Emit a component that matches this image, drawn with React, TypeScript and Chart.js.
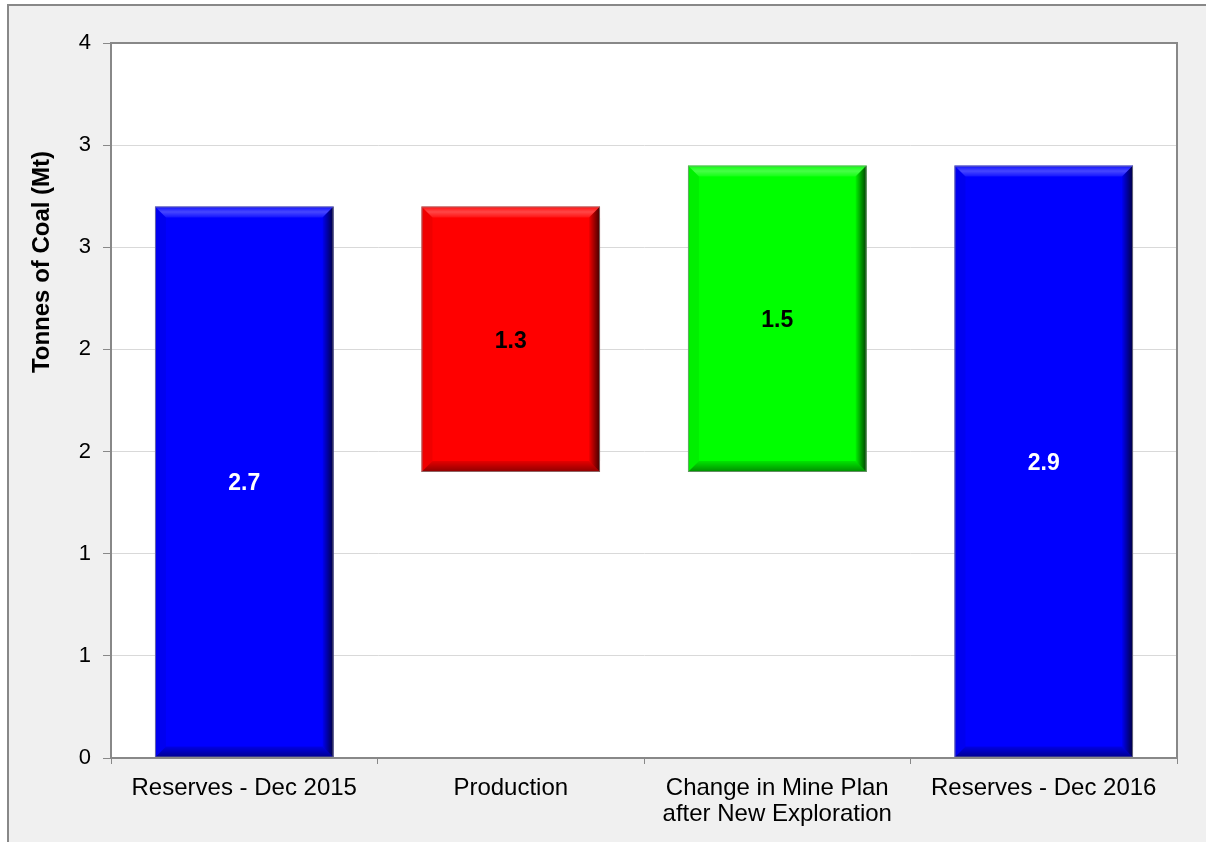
import React, { useEffect, useRef } from "react";
import { Chart, registerables } from "chart.js";

Chart.register(...registerables);

const categories: (string | string[])[] = [
  "Reserves - Dec 2015",
  "Production",
  ["Change in Mine Plan", "after New Exploration"],
  "Reserves - Dec 2016",
];
const barStarts = [0, 1.4, 1.4, 0];
const barEnds = [2.7, 2.7, 2.9, 2.9];
const labelValues = ["2.7", "1.3", "1.5", "2.9"];
const barColors = ["#0000ff", "#ff0000", "#00ff00", "#0000ff"];
const labelColors = ["#ffffff", "#000000", "#000000", "#ffffff"];
const yMin = 0;
const yMax = 3.5;
const yStep = 0.5;
const yTitle = "Tonnes of Coal (Mt)";

const FONT = "'Liberation Sans', Arial, sans-serif";

const plotAreaPlugin = {
  id: "plotArea",
  beforeDraw(chart: any) {
    const { ctx, chartArea: a } = chart;
    ctx.save();
    ctx.fillStyle = "#ffffff";
    ctx.fillRect(a.left, a.top, a.right - a.left, a.bottom - a.top);
    ctx.restore();
  },
  afterDraw(chart: any) {
    const { ctx, chartArea: a } = chart;
    ctx.save();
    ctx.strokeStyle = "#888888";
    ctx.lineWidth = 2;
    ctx.strokeRect(a.left, a.top, a.right - a.left, a.bottom - a.top);
    // y axis title (placed toward the upper part, as in the original)
    ctx.translate(33, 256);
    ctx.rotate(-Math.PI / 2);
    ctx.fillStyle = "#000000";
    ctx.font = `bold 24px ${FONT}`;
    ctx.textAlign = "center";
    ctx.textBaseline = "middle";
    ctx.fillText(yTitle, 0, 0);
    ctx.restore();
  },
};

const bevelPlugin = {
  id: "bevel",
  afterDatasetsDraw(chart: any) {
    const { ctx } = chart;
    const meta = chart.getDatasetMeta(0);
    meta.data.forEach((bar: any, i: number) => {
      const p = bar.getProps(["x", "y", "base", "width"], true);
      const l = p.x - p.width / 2;
      const r = p.x + p.width / 2;
      const t = Math.min(p.y, p.base);
      const b = Math.max(p.y, p.base);
      const s = 11;
      ctx.save();
      let g = ctx.createLinearGradient(0, t, 0, t + s);
      g.addColorStop(0, "rgba(255,255,255,0.05)");
      g.addColorStop(0.5, "rgba(255,255,255,0.28)");
      g.addColorStop(1, "rgba(255,255,255,0.08)");
      ctx.fillStyle = g;
      ctx.beginPath();
      ctx.moveTo(l, t);
      ctx.lineTo(r, t);
      ctx.lineTo(r - s, t + s);
      ctx.lineTo(l + s, t + s);
      ctx.closePath();
      ctx.fill();
      g = ctx.createLinearGradient(0, b - s, 0, b);
      g.addColorStop(0, "rgba(0,0,0,0.1)");
      g.addColorStop(1, "rgba(0,0,0,0.45)");
      ctx.fillStyle = g;
      ctx.beginPath();
      ctx.moveTo(l, b);
      ctx.lineTo(r, b);
      ctx.lineTo(r - s, b - s);
      ctx.lineTo(l + s, b - s);
      ctx.closePath();
      ctx.fill();
      g = ctx.createLinearGradient(r - s, 0, r, 0);
      g.addColorStop(0, "rgba(0,0,0,0.05)");
      g.addColorStop(1, "rgba(0,0,0,0.75)");
      ctx.fillStyle = g;
      ctx.beginPath();
      ctx.moveTo(r, t);
      ctx.lineTo(r, b);
      ctx.lineTo(r - s, b - s);
      ctx.lineTo(r - s, t + s);
      ctx.closePath();
      ctx.fill();
      ctx.fillStyle = "rgba(0,0,0,0.06)";
      ctx.beginPath();
      ctx.moveTo(l, t);
      ctx.lineTo(l, b);
      ctx.lineTo(l + s, b - s);
      ctx.lineTo(l + s, t + s);
      ctx.closePath();
      ctx.fill();
      ctx.strokeStyle = "rgba(140,140,140,0.7)";
      ctx.lineWidth = 1;
      ctx.strokeRect(l + 0.5, t + 0.5, r - l - 1, b - t - 1);
      ctx.fillStyle = labelColors[i];
      ctx.font = `bold 23px ${FONT}`;
      ctx.textAlign = "center";
      ctx.textBaseline = "middle";
      ctx.fillText(labelValues[i], p.x, (t + b) / 2 + 2);
      ctx.restore();
    });
  },
};

export default function App() {
  const ref = useRef<HTMLCanvasElement>(null);
  useEffect(() => {
    if (!ref.current) return;
    const chart = new Chart(ref.current, {
      type: "bar",
      data: {
        labels: categories as any,
        datasets: [
          {
            data: categories.map((_, i) => [barStarts[i], barEnds[i]]) as any,
            backgroundColor: barColors,
            borderWidth: 0,
            barPercentage: 0.67,
            categoryPercentage: 1,
          },
        ],
      },
      options: {
        animation: false,
        responsive: false,
        maintainAspectRatio: false,
        layout: { padding: { left: 19, right: 29, top: 37, bottom: 0 } },
        plugins: {
          legend: { display: false },
          tooltip: { enabled: false },
        },
        scales: {
          x: {
            grid: {
              display: true,
              drawOnChartArea: false,
              offset: true,
              tickLength: 6,
              color: "#888888",
            },
            border: { display: true, color: "#888888", width: 2 },
            ticks: {
              color: "#000000",
              font: { family: FONT, size: 24, lineHeight: 1.1 },
              padding: 11,
              maxRotation: 0,
              autoSkip: false,
            },
            afterFit: (s: any) => {
              s.height = 84;
            },
          },
          y: {
            min: yMin,
            max: yMax,
            ticks: {
              stepSize: yStep,
              color: "#000000",
              font: { family: FONT, size: 22 },
              padding: 12,
              callback: (v: any) => String(Math.round(Number(v))),
            },
            grid: {
              color: "#d9d9d9",
              tickColor: "#888888",
              tickLength: 8,
              lineWidth: 1,
            },
            border: { display: true, color: "#888888", width: 2 },
            title: { display: false },
            afterFit: (s: any) => {
              s.width = 83;
            },
          },
        },
      },
      plugins: [plotAreaPlugin, bevelPlugin],
    });
    return () => chart.destroy();
  }, []);

  return (
    <div
      style={{
        position: "absolute",
        left: 7,
        top: 4,
        width: 1199,
        height: 838,
        boxSizing: "border-box",
        borderLeft: "2px solid #888888",
        borderTop: "2px solid #888888",
        background: "#f0f0f0",
        overflow: "hidden",
      }}
    >
      <canvas ref={ref} width={1197} height={836} style={{ display: "block", width: 1197, height: 836 }} />
    </div>
  );
}
